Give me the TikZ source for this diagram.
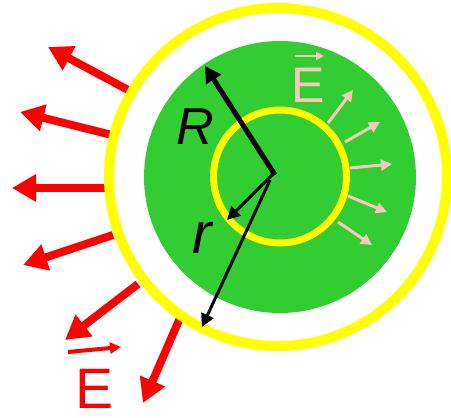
\documentclass[tikz,border=0pt]{standalone}
\usepackage{fontspec}
\setmainfont{Liberation Sans}
\usetikzlibrary{arrows.meta}
\definecolor{disk}{RGB}{50,205,50}
\definecolor{ring}{RGB}{255,255,0}
\definecolor{field}{RGB}{255,0,0}
\definecolor{inner}{RGB}{248,200,188}
\tikzset{
  redarrow/.style={draw=field, line width=8pt, -{Triangle[length=24pt,width=26pt]}},
  pinkarrow/.style={draw=inner, line width=3pt, -{Triangle[length=11pt,width=11pt]}},
  blackthick/.style={draw=black, line width=5pt, -{Triangle[length=16pt,width=17pt]}},
  blackthin/.style={draw=black, line width=3pt, -{Triangle[length=13pt,width=13pt]}},
  lbl/.style={inner sep=0pt, outer sep=0pt},
}
\begin{document}
\begin{tikzpicture}[x=1pt,y=-1pt]
\useasboundingbox (0,0) rectangle (451,418);
% red field arrows (outside)
\coordinate (a1s) at (130,91);  \coordinate (a1e) at (48,47);
\coordinate (a2s) at (112,135); \coordinate (a2e) at (20,112);
\coordinate (a3s) at (106,188); \coordinate (a3e) at (12,188);
\coordinate (a4s) at (113,235); \coordinate (a4e) at (23,265);
\coordinate (a5s) at (138,284); \coordinate (a5e) at (65,340);
\coordinate (a6s) at (180,318); \coordinate (a6e) at (143,403);
\foreach \i in {1,...,6} \draw[redarrow] (a\i s) -- (a\i e);
% outer ring and disk
\coordinate (c) at (278,177);
\draw[ring, line width=10pt] (c) circle[radius=169];
\fill[disk] (280,177) circle[radius=136];
\draw[ring, line width=7pt] (280,176.5) circle[radius=66.5];
% pink field arrows (inside)
\coordinate (p1s) at (328,123); \coordinate (p1e) at (353,90);
\coordinate (p2s) at (345,142); \coordinate (p2e) at (380,122);
\coordinate (p3s) at (350,168); \coordinate (p3e) at (392,164);
\coordinate (p4s) at (348,196); \coordinate (p4e) at (387,212);
\coordinate (p5s) at (338,222); \coordinate (p5e) at (372,245);
\foreach \i in {1,...,5} \draw[pinkarrow] (p\i s) -- (p\i e);
% radii
\coordinate (o) at (275,175);
\coordinate (Rt) at (205,66);
\coordinate (rt) at (227,220);
\coordinate (Lt) at (202,327);
\draw[blackthick] (o) -- (Rt);
\draw[blackthin] ([yshift=3pt]o) -- (rt);
\draw[blackthin] (270,180) -- (Lt);
% labels
\node[lbl, font=\fontsize{52}{52}\selectfont\itshape] (R) at (195,127) {R};
\node[lbl, font=\fontsize{58}{58}\selectfont\itshape] (r) at (202,238) {r};
\node[lbl, text=inner, font=\fontsize{50}{50}\selectfont] (Ein) at (308,85) {E};
\coordinate (vin1) at (295,56); \coordinate (vin2) at (324,56);
\draw[draw=inner, line width=2pt, -{Triangle[length=8pt,width=8pt]}] (vin1) -- (vin2);
\node[lbl, text=field, font=\fontsize{57}{57}\selectfont] (Eout) at (95,389) {E};
\coordinate (vout1) at (68,352); \coordinate (vout2) at (121,347);
\draw[draw=field, line width=4pt, -{Triangle[length=11pt,width=11pt]}] (vout1) -- (vout2);
\end{tikzpicture}
\end{document}
